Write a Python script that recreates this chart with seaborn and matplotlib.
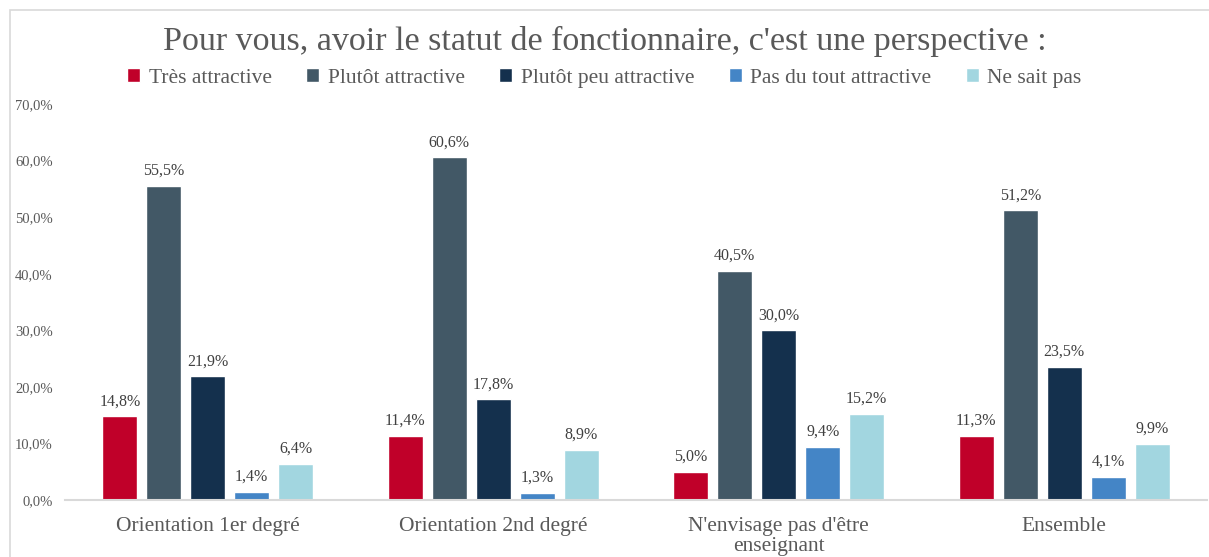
import matplotlib
matplotlib.use("Agg")
import matplotlib.pyplot as plt
import seaborn as sns
import pandas as pd
from matplotlib.patches import Rectangle

categories = ["Orientation 1er degré", "Orientation 2nd degré",
              "N'envisage pas d'être\nenseignant", "Ensemble"]
series = ["Très attractive", "Plutôt attractive", "Plutôt peu attractive",
          "Pas du tout attractive", "Ne sait pas"]
tres = [14.8, 11.4, 5.0, 11.3]
plutot = [55.5, 60.6, 40.5, 51.2]
peu = [21.9, 17.8, 30.0, 23.5]
pas_du_tout = [1.4, 1.3, 9.4, 4.1]
ne_sait = [6.4, 8.9, 15.2, 9.9]
colors = ["#C00029", "#425866", "#14304D", "#4485C6", "#A2D6E0"]
yticks = [0, 10, 20, 30, 40, 50, 60, 70]

values = [tres, plutot, peu, pas_du_tout, ne_sait]
rows = []
for s, vals in zip(series, values):
    for c, v in zip(categories, vals):
        rows.append({"cat": c, "serie": s, "val": v})
df = pd.DataFrame(rows)

sns.set_style("white")
plt.rcParams["font.family"] = ["Liberation Serif", "DejaVu Serif"]

fig = plt.figure(figsize=(12.09, 5.57), dpi=100)
ax = fig.add_axes([65 / 1209, 57 / 557, 1142 / 1209, 396 / 557])

sns.barplot(data=df, x="cat", y="val", hue="serie", order=categories,
            hue_order=series, palette=colors, width=0.77, gap=0.2,
            ax=ax, legend=True, saturation=1)

for cont in ax.containers:
    labels = [f"{v:.1f}%".replace(".", ",") for v in cont.datavalues]
    ax.bar_label(cont, labels=labels, padding=5, fontsize=11.5, color="#404040")

ax.set_ylim(0, 70)
ax.set_xlim(-0.5, 3.5)
ax.set_yticks(yticks)
ax.set_yticklabels([f"{t:.1f}%".replace(".", ",") for t in yticks],
                   fontsize=10.5, color="#595959")
ax.tick_params(axis="x", labelsize=15.5, colors="#595959", length=0, pad=12)
ax.tick_params(axis="y", length=0, pad=9)
for lab in ax.get_xticklabels():
    lab.set_linespacing(1.1)
ax.set_xlabel("")
ax.set_ylabel("")
for sp in ["top", "right", "left"]:
    ax.spines[sp].set_visible(False)
ax.spines["bottom"].set_color("#D9D9D9")
ax.spines["bottom"].set_linewidth(1.5)

handles, labs = ax.get_legend_handles_labels()
ax.get_legend().remove()
fig.legend(handles, labs, loc="center", bbox_to_anchor=(0.5, 1 - 78 / 557),
           ncol=5, frameon=False, fontsize=15.5, handlelength=0.6,
           handleheight=0.6, handletextpad=0.4, columnspacing=1.6,
           labelcolor="#595959")

fig.text(0.5, 1 - 41 / 557,
         "Pour vous, avoir le statut de fonctionnaire, c'est une perspective :",
         ha="center", va="center", fontsize=24.5, color="#595959")

fig.patches.append(Rectangle((10 / 1209, -0.1), 1.2, 1 - 10 / 557 + 0.1,
                             transform=fig.transFigure, fill=False,
                             edgecolor="#D9D9D9", linewidth=1.2))

fig.savefig("out.png", dpi=100, facecolor="white")
